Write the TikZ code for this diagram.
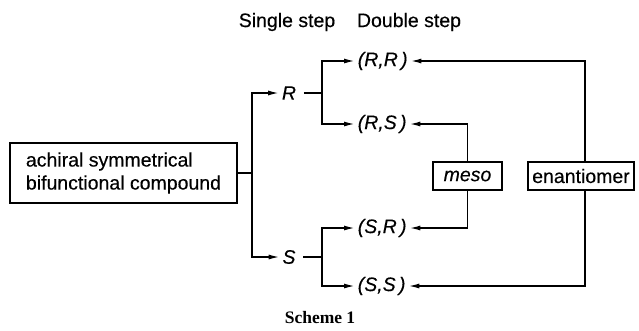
\documentclass[tikz,border=0pt]{standalone}
\usepackage{fontspec}
\setmainfont{Liberation Sans}[FakeBold=0.35]
\newfontfamily\capserif{Liberation Serif}
\usetikzlibrary{arrows.meta}
\begin{document}
\begin{tikzpicture}[x=1pt,y=-1pt,line width=1.6pt,
  arr/.style={-{Latex[length=11pt,width=5pt]}},
  txt/.style={font=\fontsize{19.5}{23}\selectfont},
  lbl/.style={font=\fontsize{19.5}{23}\selectfont\itshape,inner sep=2pt},
  boxnode/.style={draw,line width=1.6pt,font=\fontsize{19.5}{23}\selectfont,inner sep=0pt}]
\useasboundingbox (0,0) rectangle (639,330);
% headings
\node[txt] (h1) at (287,22) {Single step};
\node[txt] (h2) at (409,22) {Double step};
% main box
\node[boxnode,minimum width=227pt,minimum height=60pt,align=left] (main) at (123.5,173)
  {achiral symmetrical\\bifunctional compound};
% first step
\coordinate (j1) at (252,173);
\node[lbl] (R) at (289,93) {R};
\node[lbl] (S) at (289,257) {S};
\draw (main.east) -- (j1);
\draw[arr] (j1) |- (R.west);
\draw[arr] (j1) |- (S.west);
% second step
\coordinate (jR) at (322,93);
\coordinate (jS) at (322,257);
\draw[shorten <=5pt] (R.east) -- (jR);
\draw[shorten <=5pt] (S.east) -- (jS);
\node[lbl,anchor=west] (rr) at (355,61) {(R,R\,)};
\node[lbl,anchor=west] (rs) at (355,124) {(R,S\,)};
\node[lbl,anchor=west] (sr) at (355,228) {(S,R\,)};
\node[lbl,anchor=west] (ss) at (355,286) {(S,S\,)};
\draw[arr] (jR) |- (rr.west);
\draw[arr] (jR) |- (rs.west);
\draw[arr] (jS) |- (sr.west);
\draw[arr] (jS) |- (ss.west);
% meso and enantiomer
\node[boxnode,minimum width=69pt,minimum height=28pt,font=\fontsize{19.5}{23}\selectfont\itshape] (meso) at (467.5,176) {meso};
\node[boxnode,minimum width=106pt,minimum height=28pt] (enant) at (581,176) {enantiomer};
\draw[arr] (meso.north) |- (rs.east);
\draw[arr] (meso.south) |- (sr.east);
\draw[arr] ([xshift=4pt]enant.north) |- (rr.east);
\draw[arr] ([xshift=4pt]enant.south) |- (ss.east);
% caption
\node[font=\capserif\bfseries\fontsize{17.5}{20}\selectfont] (cap) at (320,318) {Scheme 1};
\end{tikzpicture}
\end{document}
